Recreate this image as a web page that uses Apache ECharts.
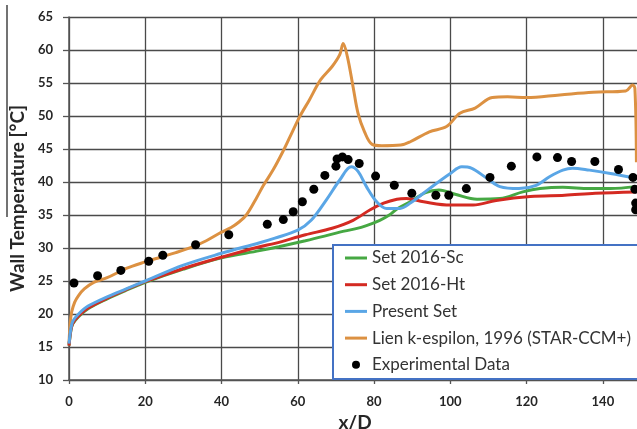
<!DOCTYPE html>
<html>
<head>
<meta charset="utf-8">
<script src="https://cdn.jsdelivr.net/npm/echarts@6/dist/echarts.min.js"></script>
<style>
html,body{margin:0;padding:0;background:#fff;}
#chart{width:637px;height:429px;}
</style>
</head>
<body>
<div id="chart"></div>
<script>
// ---- Data ----
const seriesNames = ['Set 2016-Sc', 'Set 2016-Ht', 'Present Set', 'Lien k-espilon, 1996 (STAR-CCM+)', 'Experimental Data'];

const scX = [0, 0.5, 1, 2.5, 5, 10, 15, 20, 30, 40, 50, 55, 62, 67, 71, 75, 78, 81.5, 84, 86, 89.5, 93.5, 97, 101.5, 107, 113, 119, 123.5, 129.5, 136.5, 142, 148.6];
const scY = [15.2, 17.5, 18.5, 19.6, 20.8, 22.3, 23.6, 24.8, 26.8, 28.5, 29.6, 30.2, 31.1, 31.8, 32.4, 32.9, 33.4, 34.2, 35.0, 35.9, 37.0, 38.4, 38.8, 38.1, 37.4, 37.5, 38.5, 39.0, 39.2, 39.0, 39.0, 39.3];

const htX = [0, 0.5, 1, 2.5, 5, 10, 15, 20, 30, 40, 50, 54, 62, 69, 74.5, 79, 82.5, 86, 88.5, 93, 100, 106, 112, 121, 130, 138, 148.6];
const htY = [15.2, 17.6, 18.6, 19.7, 20.9, 22.4, 23.7, 24.9, 26.9, 28.6, 30.2, 30.7, 32.0, 33.0, 34.2, 35.8, 36.8, 37.4, 37.5, 37.0, 36.5, 36.5, 37.2, 37.8, 38.0, 38.3, 38.5];

const psX = [0, 0.5, 1, 2.5, 5, 10, 15, 20, 30, 40, 50, 54, 60, 63.5, 67.5, 71, 74, 75.8, 78, 80.7, 83.3, 86.8, 89.5, 94.5, 100, 103, 105.5, 109.5, 113, 118, 122.5, 126, 129.5, 132, 136.5, 142, 148.6];
const psY = [15.5, 17.8, 18.9, 20.0, 21.2, 22.6, 23.8, 25.0, 27.4, 29.2, 30.8, 31.5, 32.7, 34.2, 37.3, 40.3, 42.3, 41.6, 39.3, 37.0, 36.0, 36.0, 36.8, 39.0, 41.3, 42.3, 42.1, 40.6, 39.3, 39.0, 39.5, 40.8, 41.8, 42.1, 41.8, 41.3, 40.6];

const lienX = [0, 0.3, 0.7, 1.5, 2.5, 4, 6.5, 10, 15, 20, 24, 28, 32.5, 36, 40, 42.5, 44.5, 46.5, 49, 51, 53.5, 56, 58, 60.5, 63, 66, 69, 71, 71.9, 73, 74.5, 75.8, 77.5, 79.5, 82, 87, 89.5, 94.5, 99, 102.5, 106.5, 111, 115, 120, 128.7, 137.4, 146, 147.8, 148.4, 148.8];
const lienY = [15.5, 18.5, 20.3, 21.8, 22.8, 23.8, 24.8, 25.5, 26.9, 27.9, 28.6, 29.3, 30.2, 31.1, 32.4, 33.1, 33.9, 35.0, 37.4, 39.5, 41.8, 44.5, 46.9, 49.9, 52.4, 55.5, 57.5, 59.3, 61.0, 59.0, 54.4, 50.4, 47.6, 45.7, 45.5, 45.6, 46.1, 47.6, 48.4, 50.4, 51.2, 52.8, 52.9, 52.8, 53.2, 53.6, 53.8, 54.7, 54.2, 43.0];

const expX = [1.3, 7.5, 13.6, 20.9, 24.6, 33.2, 41.9, 52.0, 56.2, 58.8, 61.2, 64.2, 67.1, 70.0, 70.3, 71.7, 73.2, 76.1, 80.4, 85.3, 89.9, 96.2, 99.6, 104.2, 110.4, 116.0, 122.7, 128.1, 131.8, 137.9, 144.1, 147.9, 148.4, 148.6, 148.6];
const expY = [24.7, 25.8, 26.6, 28.0, 28.9, 30.5, 32.0, 33.6, 34.3, 35.5, 37.0, 38.9, 41.0, 42.4, 43.5, 43.8, 43.4, 42.8, 40.9, 39.5, 38.3, 38.0, 38.0, 39.0, 40.7, 42.4, 43.8, 43.7, 43.1, 43.1, 41.9, 40.7, 38.9, 36.8, 35.8];

const xTicks = [0, 20, 40, 60, 80, 100, 120, 140];
const yTicks = [10, 15, 20, 25, 30, 35, 40, 45, 50, 55, 60, 65];

const zip = (xs, ys) => xs.map((x, i) => [x, ys[i]]);

const colors = {
  sc: '#46a843',
  ht: '#d42a22',
  ps: '#5aa6e6',
  lien: '#dc9142',
  exp: '#000000'
};

const chart = echarts.init(document.getElementById('chart'), null, {renderer: 'canvas'});
const axisFont = 'Lato';
const barIcon = 'path://M0,0H22V3H0Z';

const lineSeries = (name, data, color, z) => ({
  name, type: 'line', data, smooth: 0.35, showSymbol: false, symbol: 'none',
  lineStyle: {color, width: 3}, itemStyle: {color}, z, animation: false
});

chart.setOption({
  animation: false,
  backgroundColor: '#ffffff',
  grid: {left: 69, top: 17, right: -4, bottom: 49, containLabel: false, outerBoundsMode: 'none'},
  xAxis: {
    type: 'value', min: xTicks[0], max: 150, interval: 20,
    name: 'x/D', nameLocation: 'middle', nameGap: 31,
    nameTextStyle: {fontFamily: axisFont, fontWeight: 'bold', fontSize: 19, color: '#262626'},
    axisLine: {show: true, lineStyle: {color: '#555', width: 1.5}},
    axisTick: {show: true, length: 4, lineStyle: {color: '#555', width: 1.3}},
    axisLabel: {margin: 15, fontFamily: axisFont, fontWeight: 'bold', fontSize: 13, color: '#262626',
      formatter: v => xTicks.includes(v) ? String(v) : ''},
    splitLine: {show: true, lineStyle: {color: '#4a4a4a', width: 1.3}}
  },
  yAxis: {
    type: 'value', min: yTicks[0], max: yTicks[yTicks.length - 1], interval: 5,
    name: 'Wall Temperature [°C]', nameLocation: 'middle', nameGap: 37,
    nameTextStyle: {fontFamily: axisFont, fontWeight: 'bold', fontSize: 19, color: '#262626'},
    axisLine: {show: true, lineStyle: {color: '#555', width: 1.5}},
    axisTick: {show: true, length: 6, lineStyle: {color: '#555', width: 1.3}},
    axisLabel: {margin: 16, fontFamily: axisFont, fontWeight: 'bold', fontSize: 13, color: '#262626'},
    splitLine: {show: true, lineStyle: {color: '#4a4a4a', width: 1.3}}
  },
  legend: {
    orient: 'vertical', left: 345, top: 248, padding: 0,
    itemWidth: 22, itemHeight: 8, itemGap: 6.7, z: 100,
    selectedMode: false,
    textStyle: {fontFamily: 'Lato', fontSize: 17, color: '#333', lineHeight: 20},
    data: [
      {name: seriesNames[0], icon: barIcon},
      {name: seriesNames[1], icon: barIcon},
      {name: seriesNames[2], icon: barIcon},
      {name: seriesNames[3], icon: barIcon},
      {name: seriesNames[4], icon: 'circle'}
    ]
  },
  graphic: [
    {type: 'rect', z: 50, shape: {x: 333, y: 245, width: 330, height: 134},
      style: {fill: '#ffffff', stroke: '#4472c4', lineWidth: 2}},
    {type: 'line', z: 50, shape: {x1: 7, y1: 5, x2: 7, y2: 217},
      style: {stroke: '#444', lineWidth: 1.5}}
  ],
  series: [
    lineSeries(seriesNames[3], zip(lienX, lienY), colors.lien, 3),
    lineSeries(seriesNames[0], zip(scX, scY), colors.sc, 4),
    lineSeries(seriesNames[1], zip(htX, htY), colors.ht, 5),
    lineSeries(seriesNames[2], zip(psX, psY), colors.ps, 6),
    {name: seriesNames[4], type: 'scatter', data: zip(expX, expY), symbol: 'circle', symbolSize: 9,
      itemStyle: {color: colors.exp, opacity: 1}, z: 8, animation: false}
  ]
});
</script>
</body>
</html>
